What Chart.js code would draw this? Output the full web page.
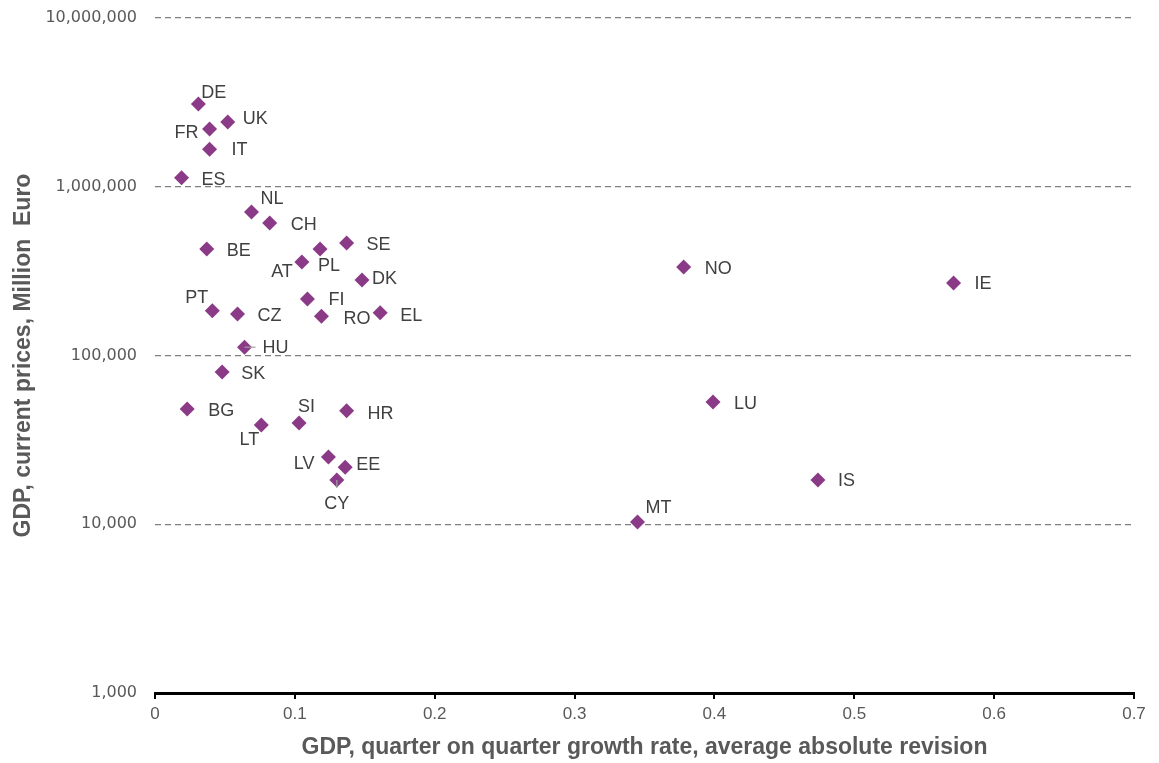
<!DOCTYPE html>
<html>
<head>
<meta charset="utf-8">
<script src="https://cdn.jsdelivr.net/npm/chart.js@4"></script>
<style>
  html, body { margin: 0; padding: 0; background: #fff; }
  #wrap { width: 1159px; height: 763px; position: relative; }
</style>
</head>
<body>
<div id="wrap"><canvas id="scatter"></canvas></div>
<script>
// Country codes, mean absolute revision of q/q growth, GDP (million EUR)
const countries = ['DE', 'UK', 'FR', 'IT', 'ES', 'NL', 'CH', 'BE', 'SE', 'PL', 'AT', 'DK',
    'NO', 'IE', 'FI', 'PT', 'CZ', 'RO', 'EL', 'HU', 'SK', 'BG', 'SI', 'HR', 'LT', 'LV',
    'EE', 'CY', 'LU', 'IS', 'MT'];
const revision = [0.031, 0.052, 0.039, 0.039, 0.019, 0.069, 0.082, 0.037, 0.137, 0.118, 0.105, 0.148,
    0.378, 0.571, 0.109, 0.041, 0.059, 0.119, 0.161, 0.064, 0.048, 0.023, 0.103, 0.137, 0.076, 0.124,
    0.136, 0.130, 0.399, 0.474, 0.345];
const gdp = [3090000, 2420000, 2200000, 1670000, 1130000, 708000, 610000, 428000, 464000, 428000, 358000, 280000,
    334000, 269000, 216000, 184000, 176000, 171000, 179000, 112000, 79800, 48200, 39800, 47000, 38700, 25000,
    21800, 18300, 53000, 18300, 10300];
const yTicks = [1000, 10000, 100000, 1000000, 10000000];

// where each label sits relative to its marker: [dx, dy, textAlign]
const labelPlace = {
    DE: [3, -11, 'left'], UK: [15, -3, 'left'], FR: [-11, 4, 'right'], IT: [22, 1, 'left'],
    ES: [20, 2, 'left'], NL: [9, -13, 'left'], CH: [21, 2, 'left'], BE: [20, 2, 'left'],
    SE: [20, 2, 'left'], PL: [-2, 17, 'left'], AT: [-9, 10, 'right'], DK: [10, -1, 'left'],
    NO: [21, 2, 'left'], IE: [21, 1, 'left'], FI: [21, 1, 'left'], PT: [-4, -13, 'right'],
    CZ: [20, 2, 'left'], RO: [22, 3, 'left'], EL: [20, 3, 'left'], HU: [18, 1, 'left'],
    SK: [19, 2, 'left'], BG: [21, 2, 'left'], SI: [-1, -16, 'left'], HR: [21, 3, 'left'],
    LT: [-2, 15, 'right'], LV: [-14, 7, 'right'], EE: [11, -2, 'left'], CY: [0, 24, 'center'],
    LU: [21, 2, 'left'], IS: [20, 1, 'left'], MT: [8, -14, 'left']
};
// short leader lines from marker towards label
const leaders = { HU: [11, 0], CY: [0, 8] };

const points = revision.map((x, i) => ({ x: x, y: gdp[i] }));

const pointLabels = {
    id: 'pointLabels',
    afterDatasetsDraw(chart) {
        const ctx = chart.ctx;
        const meta = chart.getDatasetMeta(0);
        ctx.save();
        ctx.strokeStyle = '#a0a0a0';
        ctx.lineWidth = 1.2;
        Object.keys(leaders).forEach(code => {
            const el = meta.data[countries.indexOf(code)];
            const d = leaders[code];
            ctx.beginPath();
            ctx.moveTo(el.x, el.y);
            ctx.lineTo(el.x + d[0], el.y + d[1]);
            ctx.stroke();
        });
        ctx.font = "18px 'Liberation Sans', Arial, sans-serif";
        ctx.fillStyle = '#404040';
        ctx.textBaseline = 'middle';
        meta.data.forEach((el, i) => {
            const p = labelPlace[countries[i]] || [20, 2, 'left'];
            ctx.textAlign = p[2];
            ctx.fillText(countries[i], el.x + p[0], el.y + p[1]);
        });
        ctx.restore();
    }
};

const titleFont = { family: "'Liberation Sans', Arial, sans-serif", size: 23, weight: 'bold' };

const ctx = document.getElementById('scatter').getContext('2d');
new Chart(ctx, {
    type: 'scatter',
    data: {
        datasets: [{
            label: 'GDP',
            data: points,
            pointStyle: 'rectRot',
            pointRadius: 7.5,
            backgroundColor: '#8b3a87',
            borderColor: '#8b3a87',
            borderWidth: 0
        }]
    },
    options: {
        responsive: true,
        maintainAspectRatio: false,
        animation: false,
        layout: { padding: { top: 18, right: 25, left: 0, bottom: 0 } },
        plugins: {
            legend: { display: false },
            tooltip: { enabled: false }
        },
        scales: {
            x: {
                type: 'linear',
                min: 0,
                max: 0.7,
                afterFit: (scale) => {
                    scale.height = 70;
                    scale.paddingLeft = 0;
                    scale.paddingRight = 0;
                },
                grid: { drawOnChartArea: false, drawTicks: true, tickLength: 6, color: '#000', lineWidth: 2 },
                border: { display: true, color: '#000', width: 3 },
                ticks: {
                    stepSize: 0.1,
                    padding: 5,
                    color: '#595959',
                    font: { family: "'Liberation Sans', Arial, sans-serif", size: 17 },
                    callback: (v) => String(Number(v.toFixed(1)))
                },
                title: {
                    display: true,
                    text: 'GDP, quarter on quarter growth rate, average absolute revision',
                    color: '#595959',
                    font: titleFont,
                    padding: { top: 0, bottom: 2 }
                }
            },
            y: {
                type: 'logarithmic',
                min: 1000,
                max: 10000000,
                afterFit: (scale) => {
                    scale.width = 155;
                    scale.paddingTop = 0;
                    scale.paddingBottom = 0;
                },
                afterBuildTicks: (scale) => { scale.ticks = yTicks.map(v => ({ value: v })); },
                grid: { drawTicks: false, color: '#7f7f7f', lineWidth: 1.3 },
                border: { display: false, dash: [6, 4] },
                ticks: {
                    padding: 18,
                    color: '#595959',
                    font: { family: "'DejaVu Sans', sans-serif", size: 16 },
                    callback: (v) => Number(v).toLocaleString('en-US')
                },
                title: {
                    display: true,
                    text: 'GDP, current prices, Million  Euro',
                    color: '#595959',
                    font: titleFont,
                    padding: { top: 10, bottom: 0 }
                }
            }
        }
    },
    plugins: [pointLabels]
});
</script>
</body>
</html>
